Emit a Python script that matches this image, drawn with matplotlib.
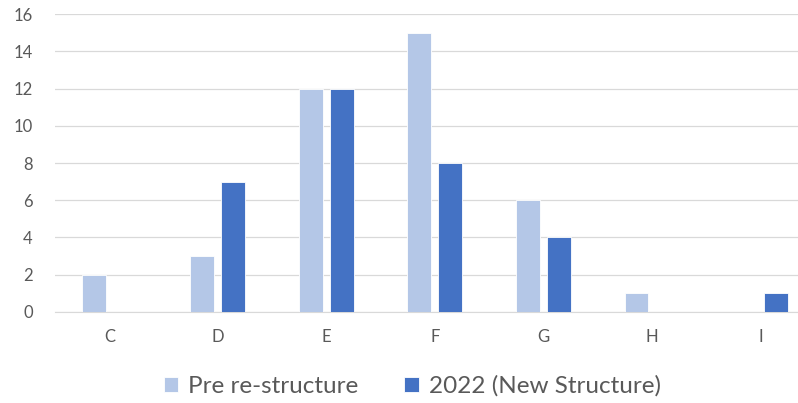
import numpy as np
import matplotlib.pyplot as plt

categories = ['C', 'D', 'E', 'F', 'G', 'H', 'I']
pre_restructure = [2, 3, 12, 15, 6, 1, 0]
new_structure = [0, 7, 12, 8, 4, 0, 1]

plt.rcParams['font.family'] = ['Lato', 'DejaVu Sans']

fig = plt.figure(figsize=(7.98, 4.03), dpi=100)
# plot area runs past the right edge of the image, like the source chart
ax = fig.add_axes([0.069, 0.226, 0.952, 0.739])

x = np.arange(len(categories))
w = 0.22
ax.bar(x - 0.143, pre_restructure, w, color='#B4C7E7', edgecolor='white', linewidth=0.6,
       label='Pre re-structure', zorder=3)
ax.bar(x + 0.143, new_structure, w, color='#4472C4', edgecolor='white', linewidth=0.6,
       label='2022 (New Structure)', zorder=3)

ax.set_xlim(-0.5, len(categories) - 0.5)
ax.set_ylim(0, 16)
ax.set_yticks(range(0, 17, 2))
ax.set_xticks(x)
ax.set_xticklabels(categories)
ax.yaxis.grid(True, color='#D9D9D9', linewidth=0.9, zorder=0)
for s in ['top', 'right', 'left']:
    ax.spines[s].set_visible(False)
ax.spines['bottom'].set_color('#D9D9D9')
ax.tick_params(axis='both', length=0, colors='#595959', labelsize=12)
ax.tick_params(axis='x', pad=12)
ax.tick_params(axis='y', pad=16)

leg = ax.legend(loc='upper center', bbox_to_anchor=(0.47, -0.14), ncol=2, frameon=False,
                fontsize=17.5, handlelength=0.6, handleheight=0.6, columnspacing=1.9,
                handletextpad=0.4)
for t in leg.get_texts():
    t.set_color('#595959')

plt.savefig('out.png', dpi=100)
